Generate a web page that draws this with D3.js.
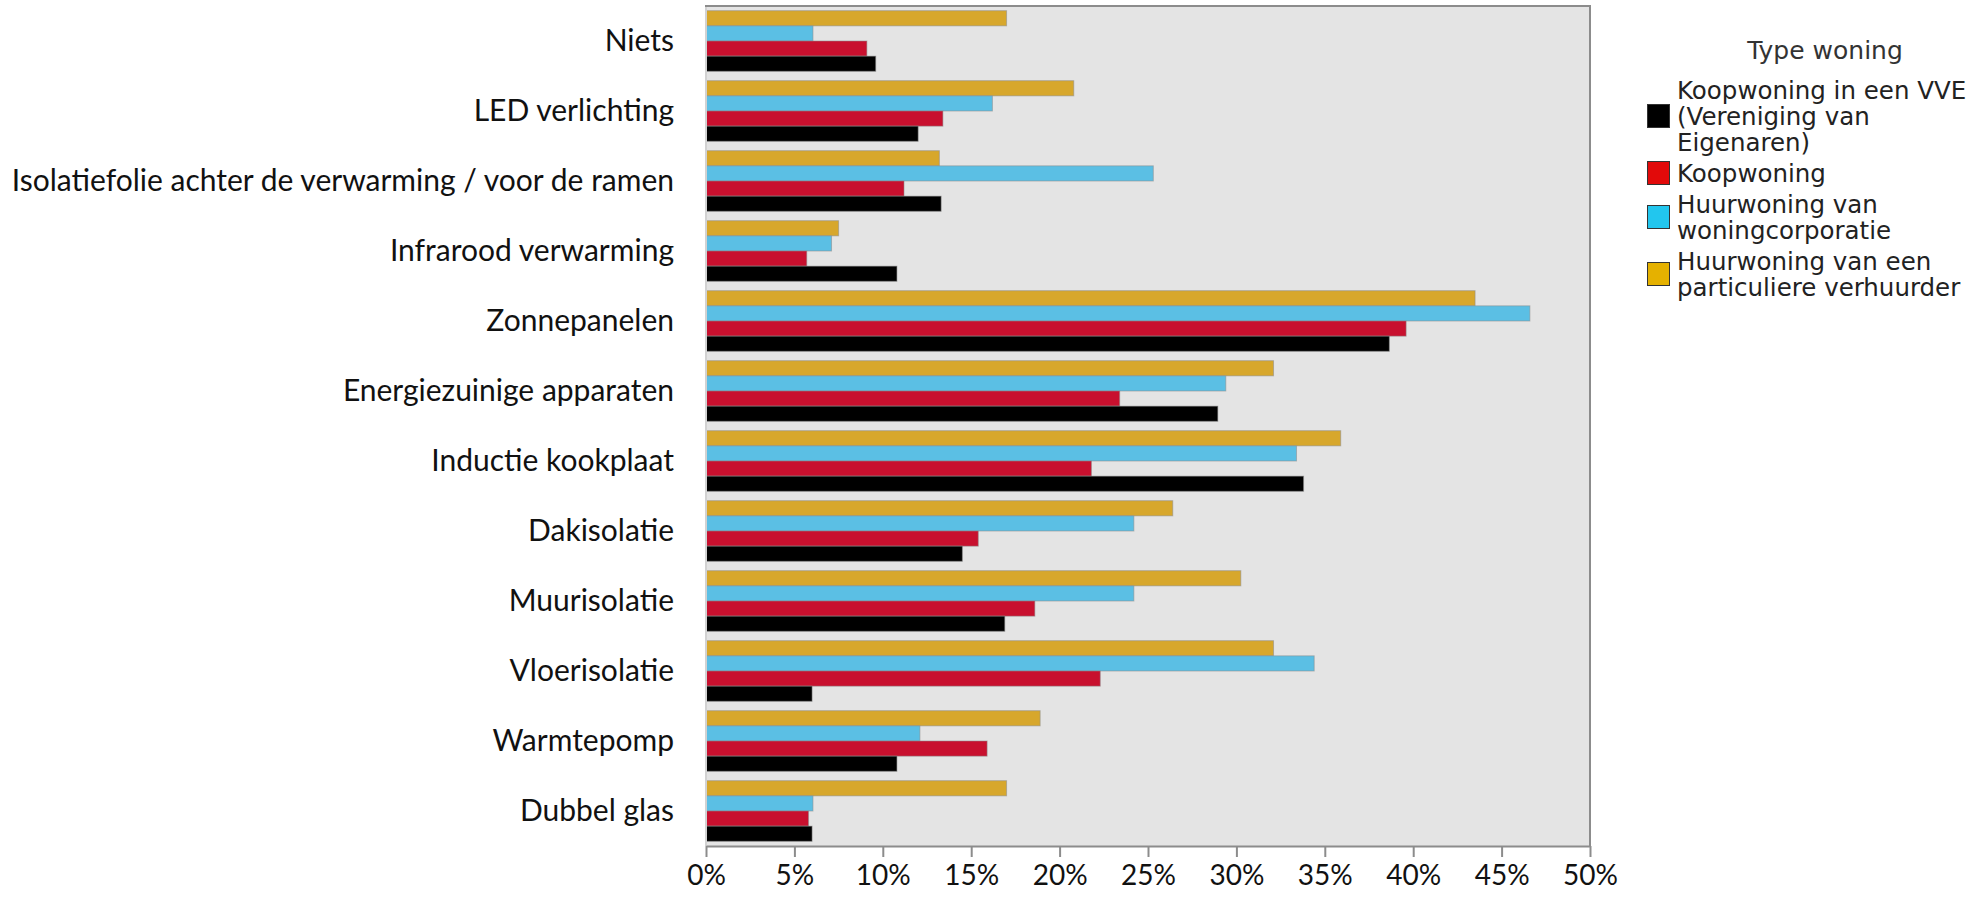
<!DOCTYPE html>
<html>
<head>
<meta charset="utf-8">
<script src="https://cdn.jsdelivr.net/npm/d3@7"></script>
<style>
  html, body { margin: 0; padding: 0; background: #ffffff; }
  svg { display: block; }
</style>
</head>
<body>
<svg id="chart" width="1975" height="904"></svg>
<script>
// ---- data ----
const categories = [
  "Niets",
  "LED verlichting",
  "Isolatiefolie achter de verwarming / voor de ramen",
  "Infrarood verwarming",
  "Zonnepanelen",
  "Energiezuinige apparaten",
  "Inductie kookplaat",
  "Dakisolatie",
  "Muurisolatie",
  "Vloerisolatie",
  "Warmtepomp",
  "Dubbel glas"
];
const seriesNames = [
  "Koopwoning in een VVE (Vereniging van Eigenaren)",
  "Koopwoning",
  "Huurwoning van woningcorporatie",
  "Huurwoning van een particuliere verhuurder"
];
const legendLines = [
  ["Koopwoning in een VVE", "(Vereniging van", "Eigenaren)"],
  ["Koopwoning"],
  ["Huurwoning van", "woningcorporatie"],
  ["Huurwoning van een", "particuliere verhuurder"]
];
const vve  = [9.6, 12.0, 13.3, 10.8, 38.65, 28.95, 33.8, 14.5, 16.9, 6.0, 10.8, 6.0];
const koop = [9.1, 13.4, 11.2, 5.7, 39.6, 23.4, 21.8, 15.4, 18.6, 22.3, 15.9, 5.8];
const corp = [6.05, 16.2, 25.3, 7.1, 46.6, 29.4, 33.4, 24.2, 24.2, 34.4, 12.1, 6.05];
const part = [17.0, 20.8, 13.2, 7.5, 43.5, 32.1, 35.9, 26.4, 30.25, 32.1, 18.9, 17.0];
const tickValues = [0, 5, 10, 15, 20, 25, 30, 35, 40, 45, 50];
const tickLabels = ["0%", "5%", "10%", "15%", "20%", "25%", "30%", "35%", "40%", "45%", "50%"];
const legendTitle = "Type woning";

(function () {
// ---- styling ----
const barColors = ["#000000", "#C8102E", "#5BBFE4", "#D7A72C"];
const legendColors = ["#000000", "#E20A0A", "#22C6EE", "#E5B100"];
const seriesValues = [vve, koop, corp, part];

const svg = d3.select("#chart");
const pL = 706, pR = 1590, pT = 6, pB = 846;

const x = d3.scaleLinear().domain([0, 50]).range([pL, pR]);
const y = d3.scaleBand().domain(categories).range([pT, pB])
  .paddingInner(0.134).paddingOuter(0.067);
// order top to bottom inside a group: particuliere, corporatie, koop, vve
const inner = d3.scaleBand().domain([3, 2, 1, 0]).range([0, y.bandwidth()]).padding(0);

// plot background
svg.append("rect").attr("x", pL).attr("y", pT)
  .attr("width", pR - pL).attr("height", pB - pT)
  .attr("fill", "#E4E4E4");

// bars
const rows = categories.map((c, i) => ({ c, i }));
const groups = svg.append("g").selectAll("g").data(rows).join("g")
  .attr("transform", d => `translate(0,${y(d.c)})`);
groups.selectAll("rect")
  .data(d => [3, 2, 1, 0].map(s => ({ s, v: seriesValues[s][d.i] })))
  .join("rect")
  .attr("x", x(0))
  .attr("y", d => inner(d.s))
  .attr("width", d => x(d.v) - x(0))
  .attr("height", inner.bandwidth())
  .attr("fill", d => barColors[d.s])
  .attr("stroke", "rgba(140,140,140,0.55)")
  .attr("stroke-width", 1);

// frame
svg.append("line").attr("x1", pL).attr("x2", pL).attr("y1", pT).attr("y2", pB)
  .attr("stroke", "#d2d2d2").attr("stroke-width", 2);
svg.append("line").attr("x1", pL - 1).attr("x2", pR + 1).attr("y1", pT).attr("y2", pT)
  .attr("stroke", "#8c8c8c").attr("stroke-width", 2);
svg.append("line").attr("x1", pR).attr("x2", pR).attr("y1", pT).attr("y2", pB)
  .attr("stroke", "#8c8c8c").attr("stroke-width", 2);

// x axis
const xAxis = d3.axisBottom(x).tickValues(tickValues)
  .tickFormat((d, i) => tickLabels[i]).tickSizeInner(11).tickSizeOuter(0).tickPadding(8);
const gx = svg.append("g").attr("transform", `translate(0,${pB})`).call(xAxis);
gx.select(".domain").attr("stroke", "#8c8c8c").attr("stroke-width", 2);
gx.selectAll(".tick line").attr("stroke", "#8c8c8c").attr("stroke-width", 2);
gx.selectAll(".tick text").attr("font-family", "Lato, sans-serif").attr("font-size", 28)
  .attr("fill", "#111");

// y labels
const yAxis = d3.axisLeft(y).tickSize(0).tickPadding(pL - 674);
const gy = svg.append("g").attr("transform", `translate(${pL},0)`).call(yAxis);
gy.select(".domain").remove();
gy.selectAll(".tick text").attr("font-family", "Lato, sans-serif").attr("font-size", 30)
  .attr("fill", "#111");

// legend
const lg = svg.append("g").attr("font-family", "'DejaVu Sans', sans-serif");
lg.append("text").attr("x", 1825).attr("y", 50).attr("text-anchor", "middle")
  .attr("dominant-baseline", "central").attr("font-size", 25).attr("fill", "#333")
  .text(legendTitle);
const lineH = 26, gapH = 5;
let cy = 90;
legendLines.forEach((lines, k) => {
  const n = lines.length;
  const mid = cy + (n - 1) * lineH / 2;
  lg.append("rect").attr("x", 1647.5).attr("y", mid - 11.5).attr("width", 22).attr("height", 23)
    .attr("fill", legendColors[k]).attr("stroke", "#333").attr("stroke-width", 1);
  lines.forEach((t, j) => {
    lg.append("text").attr("x", 1677).attr("y", cy + j * lineH)
      .attr("dominant-baseline", "central").attr("font-size", 24.5).attr("fill", "#222")
      .text(t);
  });
  cy += n * lineH + gapH;
});
})();
</script>
</body>
</html>
